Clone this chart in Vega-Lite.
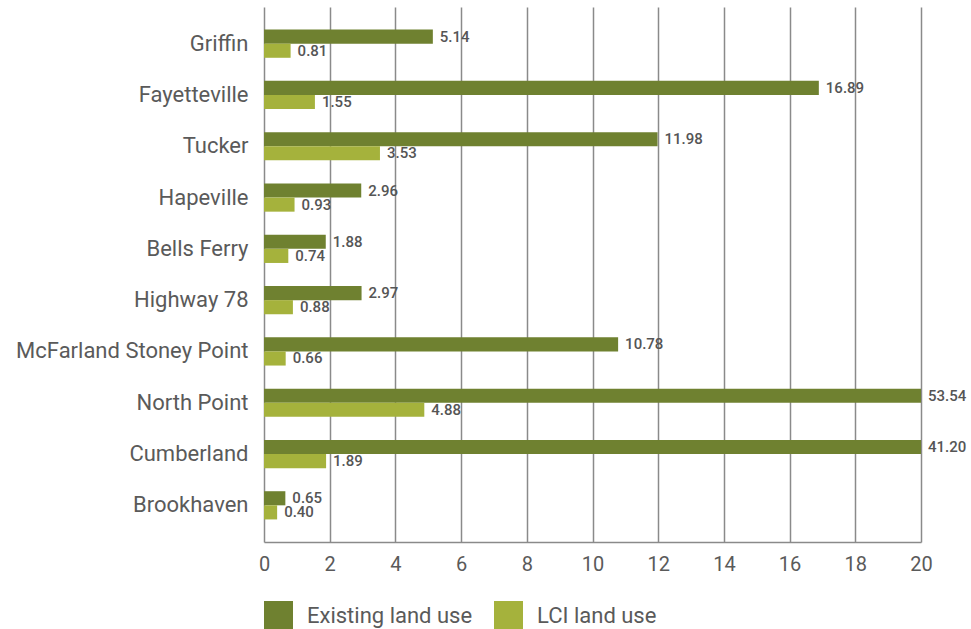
{
  "$schema": "https://vega.github.io/schema/vega-lite/v6.json",
  "width": 657,
  "height": 535,
  "autosize": {"type": "none"},
  "padding": {"left": 264, "top": 7, "right": 50, "bottom": 87},
  "background": "white",
  "config": {
    "view": {"stroke": null},
    "font": "Roboto"
  },
  "data": {
    "values": [
      {"city": "Griffin", "series": "Existing land use", "value": 5.14},
      {"city": "Griffin", "series": "LCI land use", "value": 0.81},
      {"city": "Fayetteville", "series": "Existing land use", "value": 16.89},
      {"city": "Fayetteville", "series": "LCI land use", "value": 1.55},
      {"city": "Tucker", "series": "Existing land use", "value": 11.98},
      {"city": "Tucker", "series": "LCI land use", "value": 3.53},
      {"city": "Hapeville", "series": "Existing land use", "value": 2.96},
      {"city": "Hapeville", "series": "LCI land use", "value": 0.93},
      {"city": "Bells Ferry", "series": "Existing land use", "value": 1.88},
      {"city": "Bells Ferry", "series": "LCI land use", "value": 0.74},
      {"city": "Highway 78", "series": "Existing land use", "value": 2.97},
      {"city": "Highway 78", "series": "LCI land use", "value": 0.88},
      {"city": "McFarland Stoney Point", "series": "Existing land use", "value": 10.78},
      {"city": "McFarland Stoney Point", "series": "LCI land use", "value": 0.66},
      {"city": "North Point", "series": "Existing land use", "value": 53.54},
      {"city": "North Point", "series": "LCI land use", "value": 4.88},
      {"city": "Cumberland", "series": "Existing land use", "value": 41.20},
      {"city": "Cumberland", "series": "LCI land use", "value": 1.89},
      {"city": "Brookhaven", "series": "Existing land use", "value": 0.65},
      {"city": "Brookhaven", "series": "LCI land use", "value": 0.40}
    ]
  },
  "encoding": {
    "y": {
      "field": "city",
      "type": "nominal",
      "sort": null,
      "scale": {"paddingInner": 0.45, "paddingOuter": 0.44},
      "axis": {
        "title": null,
        "ticks": false,
        "domain": false,
        "labelFontSize": 22,
        "labelColor": "#5a5a5a",
        "labelPadding": 16,
        "labelLimit": 400,
        "labelFont": "Roboto"
      }
    },
    "yOffset": {
      "field": "series",
      "type": "nominal",
      "sort": ["Existing land use", "LCI land use"],
      "scale": {"paddingInner": 0, "paddingOuter": 0}
    },
    "x": {
      "field": "value",
      "type": "quantitative",
      "scale": {"domain": [0, 20], "clamp": true, "nice": false},
      "axis": {
        "title": null,
        "values": [0, 2, 4, 6, 8, 10, 12, 14, 16, 18, 20],
        "grid": true,
        "gridColor": "#8a8a8a",
        "gridWidth": 1.5,
        "domainColor": "#8a8a8a",
        "domainWidth": 1.5,
        "ticks": false,
        "labelFlush": false,
        "labelPadding": 12,
        "labelFontSize": 20,
        "labelColor": "#5a5a5a",
        "labelFont": "Roboto"
      }
    }
  },
  "layer": [
    {
      "mark": {"type": "bar"},
      "encoding": {
        "color": {
          "field": "series",
          "type": "nominal",
          "scale": {
            "domain": ["Existing land use", "LCI land use"],
            "range": ["#6f8130", "#a5b23c"]
          },
          "legend": {
            "title": null,
            "orient": "bottom",
            "direction": "horizontal",
            "symbolType": "square",
            "symbolSize": 841,
            "symbolStrokeWidth": 0,
            "labelFontSize": 22,
            "labelColor": "#5a5a5a",
            "labelFont": "Roboto",
            "labelLimit": 400,
            "labelOffset": 14,
            "columnPadding": 21,
            "offset": 27
          }
        }
      }
    },
    {
      "mark": {
        "type": "text",
        "align": "left",
        "baseline": "middle",
        "dx": 7,
        "fontSize": 15,
        "fontWeight": 500,
        "color": "#555555",
        "font": "Roboto"
      },
      "encoding": {
        "text": {"field": "value", "type": "quantitative", "format": ".2f"}
      }
    }
  ]
}
